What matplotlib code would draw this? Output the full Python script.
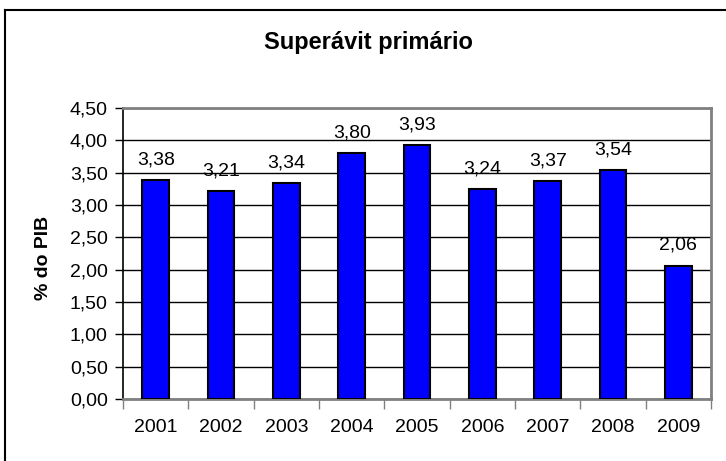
import matplotlib.pyplot as plt
import numpy as np
from matplotlib.lines import Line2D

# Data
anos = ["2001", "2002", "2003", "2004", "2005", "2006", "2007", "2008", "2009"]
superavit = [3.38, 3.21, 3.34, 3.80, 3.93, 3.24, 3.37, 3.54, 2.06]
yticks = [0.0, 0.5, 1.0, 1.5, 2.0, 2.5, 3.0, 3.5, 4.0, 4.5]

plt.rcParams['font.family'] = ['Liberation Sans', 'DejaVu Sans']

fig = plt.figure(figsize=(7.26, 4.61), dpi=100)
ax = fig.add_axes([123 / 726, 1 - 399 / 461, 588 / 726, 291 / 461])

x = np.arange(len(anos))
ax.bar(x, superavit, width=0.41, color='#0000FF', edgecolor='black', linewidth=1.5, zorder=3)

# Data labels
for xi, v in zip(x, superavit):
    ax.annotate(f"{v:.2f}".replace('.', ','), (xi, v), xytext=(0, 8.5),
                textcoords='offset points', ha='center', va='bottom', fontsize=14)

ax.set_xlim(-0.5, len(anos) - 0.5)
ax.set_ylim(0, 4.5)
ax.set_yticks(yticks)
ax.set_yticklabels([f"{t:.2f}".replace('.', ',') for t in yticks], fontsize=14)
ax.set_xticks(x)
ax.set_xticklabels(anos, fontsize=14)
ax.tick_params(axis='x', length=0, pad=14.5)
ax.tick_params(axis='y', length=6, width=1, color='black', pad=5)

# Category separator ticks on x axis
ax.set_xticks(np.arange(-0.5, len(anos), 1), minor=True)
ax.tick_params(axis='x', which='minor', length=7, width=1, color='#808080', direction='out')

ax.grid(axis='y', color='black', linewidth=1, zorder=0)
ax.set_axisbelow(True)

ax.spines['left'].set_color('black')
ax.spines['left'].set_linewidth(1.2)
for s in ['top', 'right', 'bottom']:
    ax.spines[s].set_color('#808080')
    ax.spines[s].set_linewidth(2)

fig.text(43 / 726, 1 - 258 / 461, "% do PIB", rotation=90, ha='center', va='center',
         fontsize=14, fontweight='bold')

fig.text(368 / 726, 1 - 43 / 461, "Superávit primário", ha='center', va='center',
         fontsize=17, fontweight='bold')

# Outer chart border (left and top visible)
fig.add_artist(Line2D([5 / 726, 5 / 726], [0, 1 - 10 / 461], color='black', linewidth=1.5))
fig.add_artist(Line2D([5 / 726, 1], [1 - 10 / 461, 1 - 10 / 461], color='black', linewidth=1.5))

fig.savefig("out.png", dpi=100)
